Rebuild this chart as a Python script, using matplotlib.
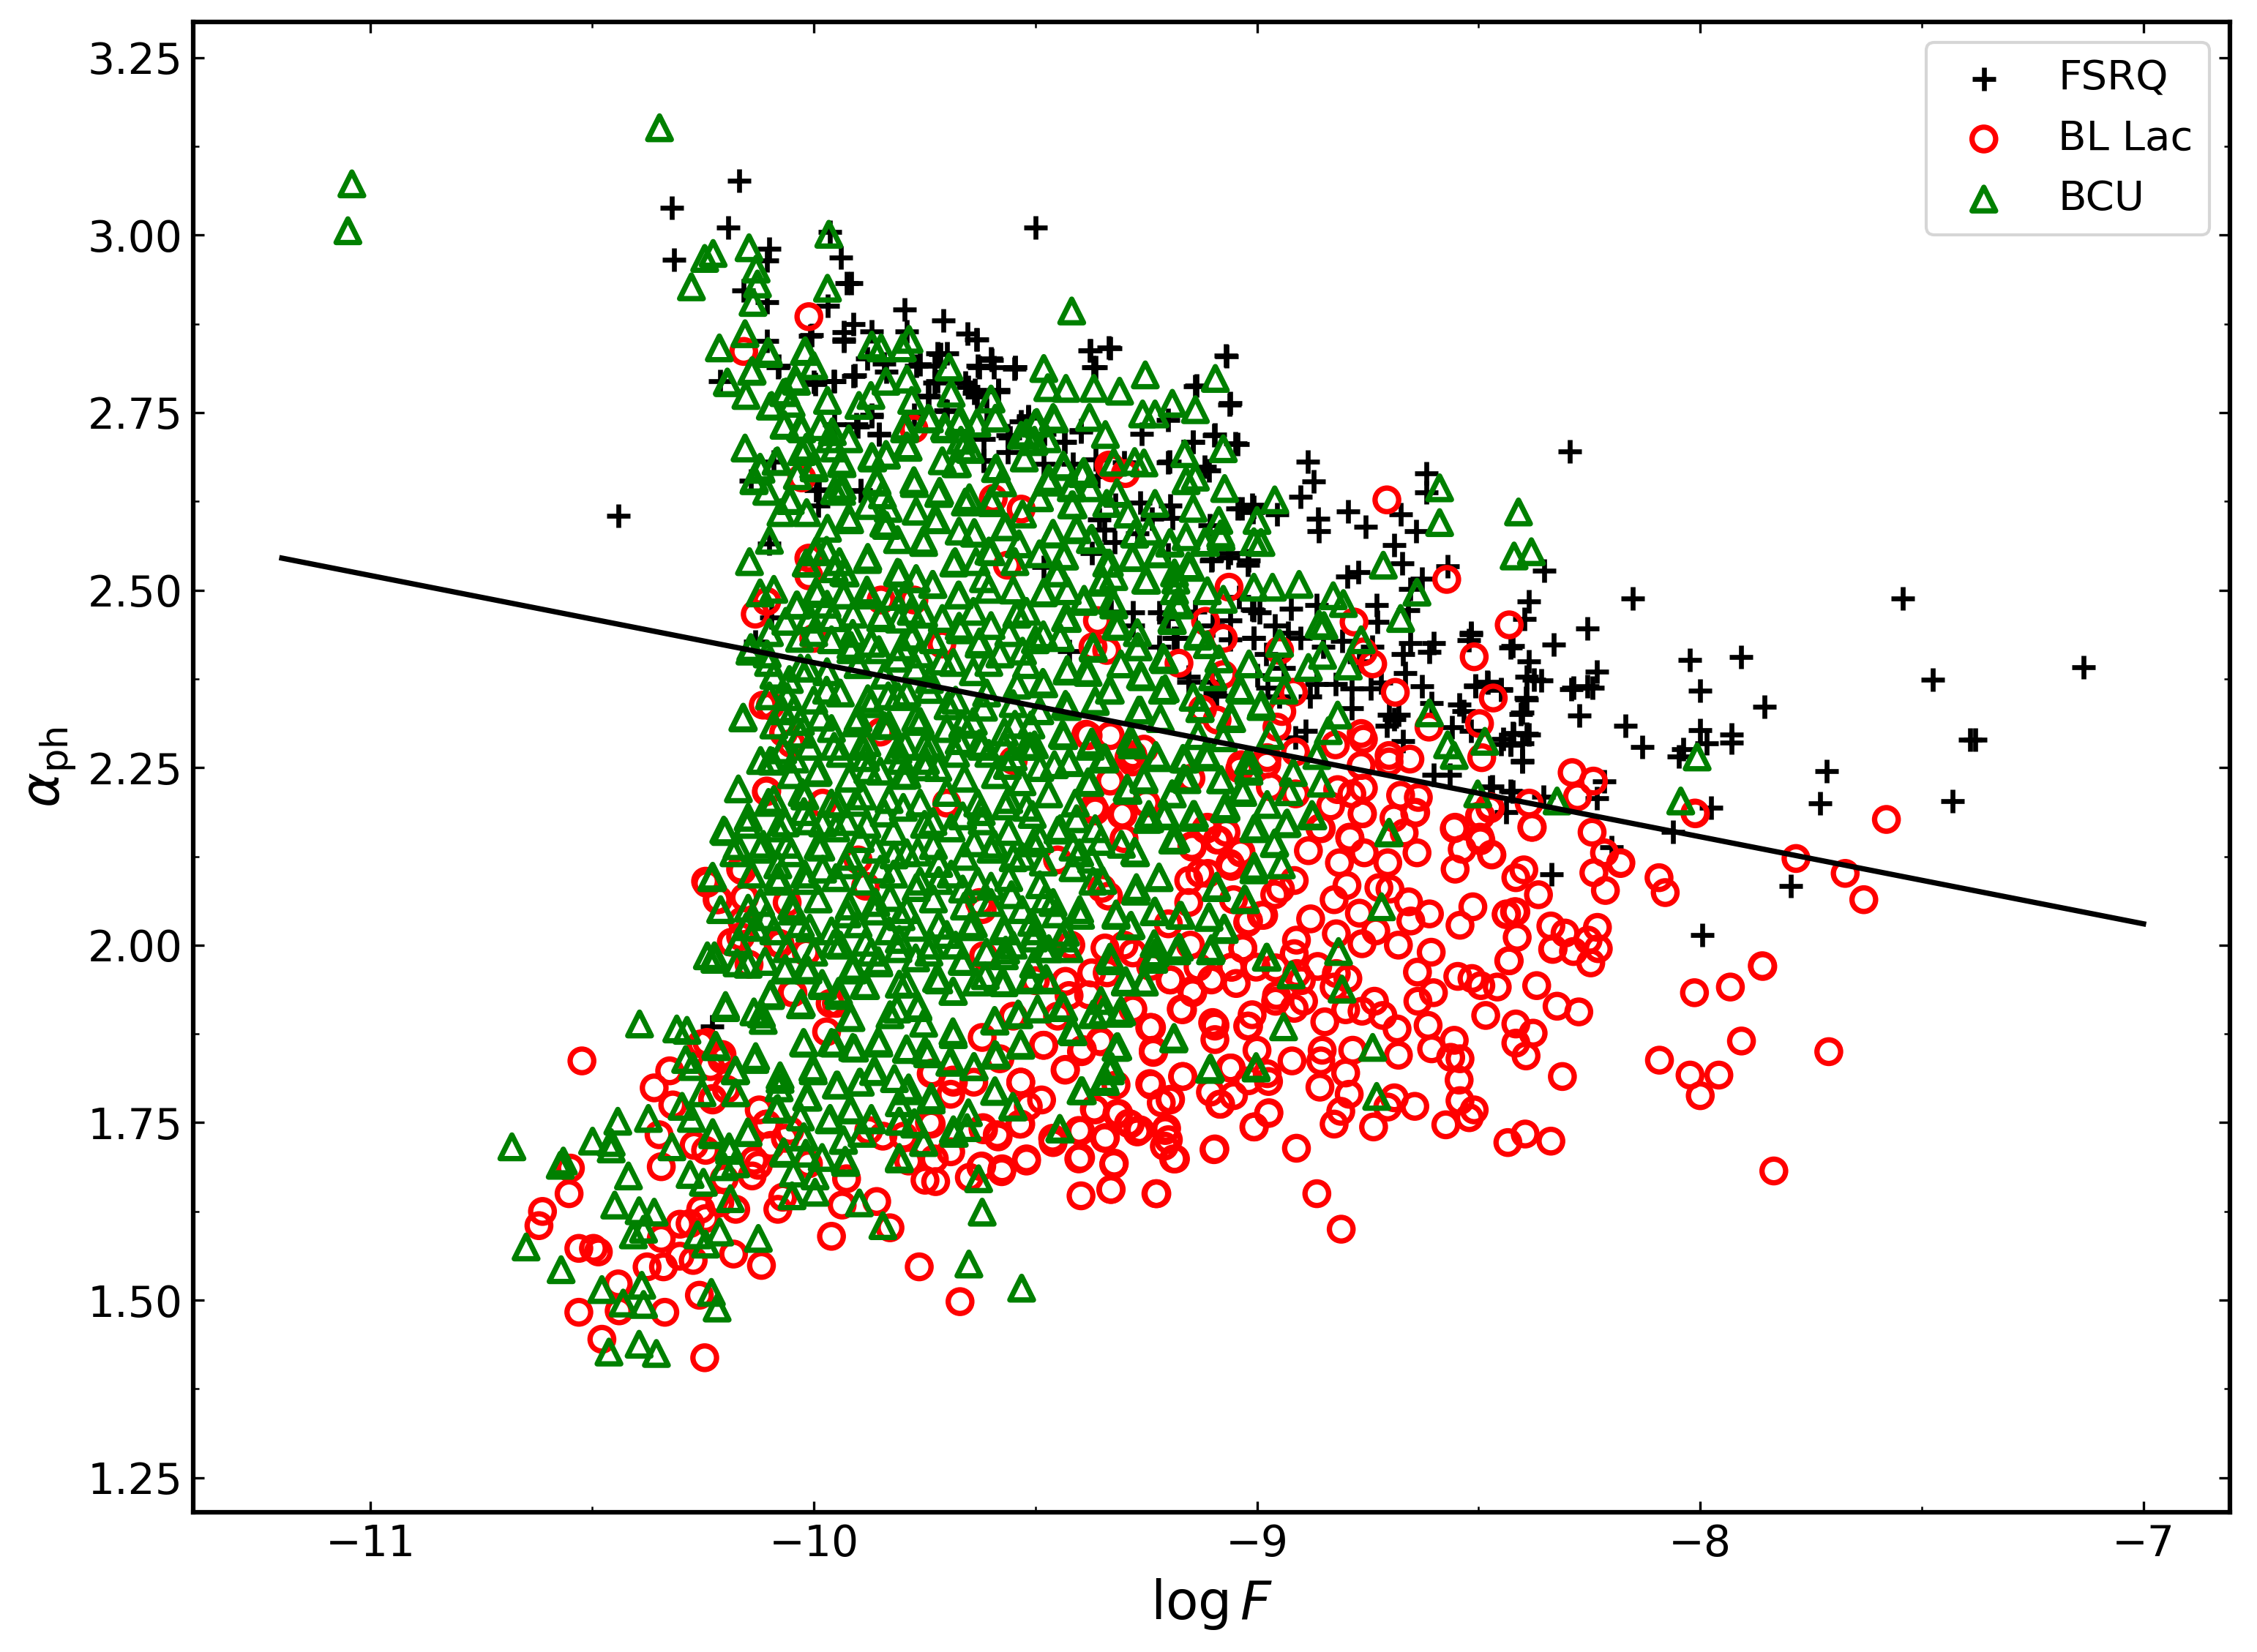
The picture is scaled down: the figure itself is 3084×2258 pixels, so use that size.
import matplotlib
matplotlib.use("Agg")
import matplotlib.pyplot as plt
from matplotlib.ticker import AutoMinorLocator, MultipleLocator

fsrq_right = [(-8.294,2.695),(-8.352,2.527),(-8.386,2.484),(-8.396,2.459),(-8.152,2.488),(-7.543,2.488),(-8.254,2.446),(-8.517,2.438),(-8.522,2.429),(-8.33,2.423),(-8.428,2.419),(-8.423,2.421),(-8.387,2.40),(-8.023,2.402),(-7.908,2.406),(-8.233,2.385),(-8.391,2.378),(-8.375,2.374),(-8.359,2.373),(-7.475,2.374),(-7.135,2.391),(-8.286,2.362),(-8.291,2.360),(-8.254,2.365),(-8.243,2.362),(-8.0,2.358),(-8.507,2.365),(-8.48,2.37),(-8.449,2.36),(-8.393,2.348),(-8.405,2.325),(-8.272,2.323),(-7.855,2.336),(-8.169,2.309),(-8.0,2.303),(-7.93,2.297),(-7.93,2.285),(-7.986,2.284),(-8.131,2.279),(-8.038,2.276),(-8.049,2.266),(-8.422,2.298),(-8.391,2.298),(-8.428,2.283),(-8.401,2.284),(-8.449,2.283),(-8.401,2.259),(-7.391,2.289),(-7.38,2.289),(-7.714,2.245),(-8.217,2.231),(-8.475,2.222),(-8.428,2.217),(-8.354,2.209),(-8.233,2.207),(-8.438,2.187),(-7.975,2.194),(-7.73,2.2),(-7.43,2.203),(-8.061,2.16),(-8.2,2.138),(-8.336,2.10),(-7.796,2.083),(-7.996,2.014)]
fsrq_mid = [(-9.376,2.837),(-9.334,2.842),(-9.365,2.814),(-9.069,2.829),(-9.139,2.787),(-9.062,2.761),(-9.097,2.718),(-9.144,2.709),(-9.044,2.706),(-9.397,2.723),(-9.434,2.709),(-8.886,2.681),(-8.872,2.653),(-8.902,2.631),(-8.618,2.664),(-8.618,2.638),(-8.794,2.611),(-8.863,2.6),(-8.86,2.583),(-8.755,2.589),(-8.676,2.607),(-8.641,2.583),(-8.691,2.563),(-8.672,2.538),(-8.772,2.525),(-8.797,2.519),(-8.57,2.534),(-8.628,2.516),(-8.655,2.502),(-9.197,2.681),(-9.118,2.674),(-9.034,2.615),(-9.007,2.617),(-8.955,2.607),(-9.191,2.602),(-9.065,2.546),(-9.02,2.536),(-9.102,2.543),(-8.73,2.479),(-8.66,2.472),(-8.923,2.474),(-8.865,2.479),(-9.007,2.472),(-8.995,2.469),(-8.728,2.455),(-9.007,2.433),(-8.902,2.433),(-8.807,2.428),(-9.181,2.433),(-8.518,2.44),(-8.602,2.425),(-8.655,2.425),(-8.612,2.413),(-8.67,2.41),(-8.665,2.383),(-8.481,2.371),(-8.507,2.366),(-8.449,2.359),(-8.628,2.365),(-8.391,2.346),(-8.744,2.361),(-8.786,2.361),(-8.865,2.368),(-8.823,2.368),(-8.786,2.334),(-8.607,2.341),(-8.544,2.339),(-8.533,2.329),(-8.402,2.327),(-8.702,2.324),(-8.681,2.324),(-8.707,2.309),(-8.69,2.318),(-8.423,2.299),(-8.386,2.297),(-8.444,2.29),(-8.428,2.282),(-8.402,2.258),(-8.891,2.302),(-8.913,2.292),(-8.56,2.307),(-8.518,2.302),(-8.67,2.287),(-8.602,2.24),(-8.565,2.24),(-8.47,2.223),(-8.423,2.216),(-9.102,2.371),(-9.155,2.371),(-9.091,2.351),(-8.96,2.45),(-8.93,2.44),(-8.98,2.41),(-9.06,2.43),(-9.1,2.45),(-9.14,2.47),(-9.2,2.46),(-9.04,2.49),(-8.94,2.39),(-9.0,2.38),(-8.85,2.42),(-8.77,2.40),(-8.74,2.42),(-8.72,2.37),(-8.88,2.35),(-8.95,2.35)]
fsrq_left = [(-10.44,2.605),(-9.50,3.01),(-10.169,3.076),(-10.321,3.038),(-10.193,3.01),(-10.316,2.965),(-10.1,2.981),(-10.106,2.964),(-10.158,2.922),(-10.106,2.905),(-9.963,3.004),(-9.939,2.968),(-9.916,2.932),(-9.925,2.932),(-9.969,2.9),(-9.795,2.895),(-9.708,2.88),(-9.911,2.874),(-9.869,2.864),(-9.932,2.863),(-9.932,2.851),(-10.008,2.858),(-10.106,2.851),(-9.79,2.864),(-9.653,2.861),(-9.632,2.853),(-9.721,2.833),(-9.70,2.833),(-9.598,2.824),(-9.627,2.814),(-9.548,2.812),(-9.879,2.826),(-9.842,2.819),(-9.769,2.816),(-9.911,2.801),(-9.956,2.794),(-10.0,2.793),(-10.079,2.816),(-10.211,2.794),(-9.721,2.794),(-9.658,2.792),(-9.637,2.782),(-9.584,2.782),(-9.742,2.774),(-9.632,2.772),(-9.7,2.752),(-9.774,2.747),(-9.869,2.747),(-9.9,2.73),(-9.853,2.72),(-9.563,2.718),(-9.616,2.713),(-9.532,2.737),(-9.616,2.683),(-10.09,2.681),(-9.995,2.641),(-9.99,2.619),(-9.895,2.641),(-10.142,2.654),(-10.1,2.565),(-10.095,2.461),(-10.132,2.427),(-9.594,2.814),(-9.545,2.814),(-9.61,2.753),(-9.516,2.743),(-9.237,2.60),(-9.107,2.591),(-9.01,2.61),(-9.36,2.66),(-9.3,2.68),(-9.48,2.72),(-9.26,2.72),(-9.2,2.74),(-9.32,2.62),(-9.27,2.58),(-9.2,2.55),(-9.33,2.47),(-9.28,2.45),(-9.22,2.42),(-10.23,1.885)]
fsrq_core = [(-10.005,2.859),(-9.933,2.853),(-9.714,2.832),(-9.727,2.816),(-9.634,2.853),(-9.6,2.826),(-9.63,2.816),(-9.546,2.814),(-9.377,2.837),(-9.331,2.841),(-9.369,2.814),(-9.07,2.83),(-9.137,2.788),(-9.061,2.763),(-10.08,2.814),(-9.954,2.794),(-9.908,2.802),(-9.996,2.79),(-9.836,2.808),(-9.76,2.818),(-9.727,2.792),(-9.651,2.786),(-9.638,2.778),(-9.584,2.78),(-9.74,2.772),(-9.702,2.753),(-9.87,2.745),(-9.904,2.733),(-9.954,2.733),(-9.853,2.719),(-9.516,2.745),(-9.558,2.715),(-9.436,2.709),(-9.398,2.725),(-9.617,2.682),(-9.562,2.694),(-9.482,2.678),(-9.415,2.678),(-9.365,2.684),(-9.145,2.709),(-9.095,2.719),(-9.049,2.707),(-9.2,2.68),(-9.108,2.668),(-9.011,2.62),(-9.044,2.615),(-9.196,2.619),(-9.263,2.623),(-9.356,2.599),(-9.344,2.585),(-9.988,2.642),(-9.895,2.64),(-9.061,2.552),(-9.019,2.542),(-9.103,2.542),(-9.373,2.552),(-9.322,2.567),(-9.482,2.532),(-9.28,2.469),(-9.221,2.469),(-9.011,2.473),(-9.007,2.433),(-9.061,2.457),(-9.188,2.433),(-9.424,2.414),(-8.977,2.362),(-9.095,2.355),(-9.154,2.378)]

bllac_zoom5 = [(-7.784,2.122),(-8.011,2.185),(-8.379,2.166),(-8.474,2.192),(-8.495,2.182),(-8.553,2.166),(-8.244,2.159),(-8.216,2.13),(-8.179,2.116),(-8.24,2.102),(-8.214,2.077),(-8.093,2.095),(-8.079,2.074),(-8.398,2.106),(-8.416,2.095),(-8.365,2.071),(-8.471,2.128),(-8.537,2.135),(-8.495,2.148),(-8.553,2.107),(-8.639,2.13),(-8.642,2.187),(-8.668,2.158),(-8.763,2.185),(-8.79,2.15),(-8.705,2.116),(-8.758,2.13),(-8.814,2.116),(-8.858,2.165),(-8.884,2.133),(-8.7,2.079),(-8.725,2.081),(-8.797,2.084),(-8.826,2.064),(-8.658,2.061),(-8.611,2.044),(-8.653,2.034),(-8.769,2.045),(-8.879,2.037),(-8.732,2.02),(-8.513,2.054),(-8.542,2.028),(-8.437,2.044),(-8.416,2.047),(-8.413,2.011),(-8.432,1.978),(-8.337,2.027),(-8.305,2.017),(-8.232,2.025),(-8.253,2.007),(-8.23,1.995),(-8.332,1.995),(-8.286,1.991),(-8.247,1.975),(-8.821,2.016),(-8.911,2.007),(-8.916,1.988),(-9.032,1.995),(-8.763,2.002),(-8.681,2.0),(-8.607,1.99),(-8.638,1.962),(-8.547,1.956),(-8.515,1.953),(-8.495,1.943),(-8.458,1.941),(-8.602,1.933),(-8.637,1.921),(-8.484,1.901),(-8.369,1.943),(-8.323,1.914),(-8.274,1.906),(-8.416,1.889),(-8.377,1.876),(-8.416,1.862),(-8.393,1.844),(-8.614,1.887),(-8.606,1.854),(-8.555,1.866),(-8.542,1.84),(-8.563,1.842),(-8.544,1.81),(-8.542,1.781),(-8.51,1.768),(-8.521,1.757),(-8.574,1.747),(-8.311,1.815),(-8.434,1.722),(-8.395,1.734),(-8.337,1.724),(-8.092,1.838),(-8.023,1.817),(-7.958,1.817),(-8.0,1.788),(-7.907,1.865),(-7.71,1.85),(-8.013,1.933),(-7.932,1.941),(-7.86,1.971),(-7.834,1.682),(-8.81,1.6),(-8.865,1.65),(-8.911,1.714),(-9.007,1.744),(-9.097,1.712),(-9.184,1.699),(-9.226,1.65),(-9.329,1.656),(-9.323,1.692),(-8.826,1.748),(-8.737,1.744),(-8.644,1.773),(-8.69,1.785),(-8.705,1.772),(-8.811,1.766),(-8.792,1.79),(-8.858,1.8),(-8.8,1.82),(-8.856,1.837),(-8.853,1.852),(-8.784,1.852),(-8.681,1.845),(-8.684,1.882),(-8.716,1.901),(-8.735,1.921),(-8.8,1.909),(-8.847,1.892),(-8.763,1.907),(-8.916,1.911),(-8.958,1.921),(-8.895,1.921),(-8.821,1.96),(-8.795,1.953),(-8.863,1.97),(-8.826,1.941),(-8.921,1.837),(-8.974,1.763),(-8.974,1.808),(-9.0,1.852),(-9.058,1.827),(-9.053,1.788),(-9.084,1.776),(-9.105,1.793),(-9.168,1.815),(-9.195,1.783),(-9.242,1.805),(-9.216,1.778),(-9.316,1.763),(-9.205,1.741),(-9.2,1.726),(-9.269,1.739),(-9.29,1.749),(-9.342,1.729),(-9.234,1.852),(-9.095,1.867),(-9.021,1.886),(-9.242,1.884),(-9.168,1.909),(-9.1,1.891),(-9.095,1.886),(-9.047,1.946),(-9.102,1.952),(-9.058,1.969),(-9.147,1.936),(-9.195,1.951),(-9.021,2.032),(-8.99,2.042),(-8.916,2.091),(-8.947,2.079),(-9.037,2.13),(-9.09,2.148),(-9.116,2.163),(-9.058,2.111),(-9.111,2.101),(-9.147,2.14),(-8.958,1.968),(-8.91,1.96),(-8.9,1.95)]
bllac_upper = [(-8.431,2.451),(-8.51,2.406),(-8.467,2.348),(-8.498,2.312),(-8.493,2.264),(-8.289,2.243),(-8.241,2.231),(-8.277,2.209),(-8.386,2.2),(-8.475,2.195),(-8.498,2.182),(-8.38,2.166),(-8.496,2.147),(-8.47,2.127),(-8.18,2.115),(-8.438,2.043),(-8.419,2.047),(-8.431,1.978),(-8.333,1.994),(-7.859,1.97),(-8.012,2.186),(-7.58,2.177),(-7.673,2.101),(-7.631,2.064),(-8.707,2.627),(-8.572,2.515),(-9.063,2.504),(-9.328,2.672),(-9.297,2.664),(-8.781,2.455),(-9.116,2.456),(-9.076,2.432),(-8.739,2.396),(-8.76,2.413),(-8.949,2.415),(-9.37,2.42),(-9.339,2.415),(-9.36,2.457),(-9.176,2.397),(-8.688,2.356),(-8.918,2.356),(-9.076,2.381),(-8.944,2.329),(-9.123,2.332),(-8.955,2.307),(-9.09,2.317),(-8.765,2.298),(-8.76,2.29),(-8.612,2.307),(-8.823,2.282),(-8.913,2.272),(-8.978,2.255),(-8.702,2.267),(-8.655,2.262),(-8.765,2.253),(-8.702,2.258),(-8.76,2.221),(-8.818,2.219),(-8.786,2.213),(-8.676,2.211),(-8.636,2.208),(-8.834,2.196),(-8.762,2.185),(-8.644,2.186),(-8.691,2.179),(-8.791,2.152),(-8.855,2.164),(-9.039,2.248),(-8.913,2.213),(-8.97,2.223),(-9.386,2.297),(-9.302,2.184),(-9.365,2.189),(-9.112,2.164),(-9.07,2.159),(-9.149,2.235),(-9.281,2.258),(-8.555,2.164),(-8.497,2.152),(-10.011,2.545),(-10.132,2.466),(-10.106,2.484),(-10.011,2.52),(-9.848,2.486),(-9.774,2.486),(-10.0,2.432),(-9.711,2.424),(-9.595,2.629),(-9.532,2.614),(-9.774,2.727),(-10.027,2.658),(-9.563,2.535),(-10.011,2.885),(-10.158,2.836),(-10.114,2.338),(-10.107,2.216),(-10.162,2.105),(-10.244,2.09),(-10.218,2.064),(-10.162,2.034),(-10.146,1.973),(-10.081,2.003),(-9.334,2.676),(-9.85,2.3),(-9.7,2.2),(-9.55,2.26),(-9.98,2.2),(-9.9,2.12),(-9.62,2.05),(-9.45,2.12),(-9.35,2.08),(-9.3,2.15),(-9.25,2.2),(-10.098,2.337),(-10.068,2.299),(-10.051,2.284),(-9.381,2.295),(-9.331,2.295),(-9.255,2.276),(-9.289,2.264),(-9.036,2.254),(-8.977,2.264)]
bllac_lower = [(-10.523,1.837),(-10.36,1.799),(-10.325,1.823),(-10.254,1.861),(-10.207,1.846),(-10.233,1.829),(-10.197,1.797),(-10.318,1.775),(-10.228,1.782),(-10.349,1.733),(-10.27,1.718),(-10.344,1.688),(-10.244,1.711),(-10.549,1.686),(-10.552,1.65),(-10.612,1.625),(-10.62,1.605),(-10.53,1.573),(-10.497,1.573),(-10.486,1.568),(-10.344,1.587),(-10.302,1.607),(-10.279,1.608),(-10.244,1.615),(-10.255,1.628),(-10.212,1.637),(-10.176,1.628),(-10.202,1.671),(-10.139,1.675),(-10.125,1.69),(-10.376,1.547),(-10.339,1.547),(-10.302,1.562),(-10.272,1.556),(-10.181,1.565),(-10.118,1.549),(-10.441,1.523),(-10.258,1.507),(-10.53,1.483),(-10.439,1.485),(-10.336,1.483),(-10.478,1.445),(-10.246,1.419),(-10.081,1.628),(-10.07,1.645),(-9.96,1.59),(-9.936,1.634),(-9.858,1.639),(-9.828,1.602),(-9.926,1.671),(-9.762,1.547),(-9.67,1.498),(-9.749,1.669),(-9.725,1.667),(-9.649,1.673),(-9.623,1.688),(-9.576,1.681),(-9.52,1.696),(-9.397,1.647),(-9.33,1.656),(-9.228,1.65),(-9.402,1.699),(-9.323,1.691),(-9.46,1.722),(-9.344,1.728),(-9.27,1.737),(-9.207,1.739),(-9.402,1.739),(-9.586,1.733),(-9.618,1.741),(-9.535,1.748),(-9.691,1.709),(-9.739,1.75),(-9.786,1.696),(-9.728,1.699),(-9.516,1.773),(-9.486,1.782),(-9.367,1.769),(-9.312,1.763),(-9.286,1.748),(-9.239,1.803),(-9.433,1.824),(-9.533,1.807),(-9.481,1.859),(-9.396,1.85),(-9.354,1.865),(-9.233,1.85),(-9.239,1.884),(-9.338,1.961),(-9.686,1.81),(-9.733,1.82),(-9.639,1.807),(-9.691,1.79),(-9.618,1.743),(-10.049,1.933),(-9.949,1.918),(-10.107,1.748),(-10.054,1.739),(-9.876,1.739),(-9.844,1.731),(-9.797,1.731),(-10.097,1.718),(-10.012,1.692),(-9.45,1.9),(-9.38,1.93),(-9.28,1.91),(-9.5,1.95),(-9.42,2.0),(-9.3,2.0),(-9.24,1.97),(-9.2,2.03),(-9.15,2.0),(-9.58,1.84),(-9.62,1.87),(-9.55,1.9)]
bllac_dense = [(-9.306,2.184),(-9.369,2.194),(-9.28,2.268),(-9.331,2.231),(-9.146,2.138),(-9.112,2.166),(-9.086,2.148),(-9.036,2.131),(-9.061,2.115),(-9.129,2.101),(-9.154,2.091),(-9.019,2.034),(-8.985,2.042),(-8.96,2.071),(-9.032,1.996),(-9.057,1.969),(-9.103,1.951),(-9.145,1.933),(-9.133,1.969),(-9.196,1.951),(-9.171,1.91),(-9.238,1.884),(-9.234,1.849),(-9.167,1.815),(-9.238,1.803),(-9.196,1.782),(-9.204,1.742),(-9.188,1.699),(-9.095,1.713),(-9.006,1.744),(-8.973,1.764),(-9.082,1.776),(-9.019,1.809),(-8.977,1.819),(-9.061,1.827),(-9.095,1.888),(-9.019,1.886),(-9.011,1.902),(-8.956,1.929),(-9.002,1.969),(-9.053,2.064),(-9.154,2.06),(-9.335,2.069),(-9.343,1.996),(-9.373,1.961),(-9.28,1.989),(-9.432,1.949),(-9.424,1.929),(-9.352,1.864),(-9.394,1.853),(-9.482,1.859),(-9.533,1.807),(-9.432,1.825),(-9.318,1.803),(-9.365,1.768),(-9.314,1.762),(-9.398,1.738),(-9.343,1.728),(-9.398,1.701),(-9.322,1.693),(-9.52,1.699),(-9.575,1.685),(-9.621,1.689),(-9.461,1.728),(-9.533,1.748),(-9.584,1.73),(-9.617,1.74),(-9.735,1.748),(-9.685,1.807),(-9.735,1.819),(-9.264,1.74),(-9.209,1.717),(-9.883,2.083),(-10.165,2.107),(-10.215,2.064),(-10.156,2.067),(-10.241,2.087),(-10.106,2.217),(-10.06,2.06),(-10.076,2.002),(-10.165,2.012),(-10.186,2.004),(-10.017,1.99),(-10.047,1.933),(-10.241,1.863),(-10.207,1.839),(-10.228,1.784),(-10.123,1.768),(-10.106,1.748),(-10.135,1.697),(-10.064,1.728),(-9.963,1.918),(-9.971,1.878),(-9.626,2.06),(-9.617,1.985)]

bcu_top = [(-10.348,3.151),(-11.042,3.072),(-11.051,3.006),(-10.227,2.974),(-10.246,2.967),(-10.276,2.927),(-10.146,2.982),(-10.13,2.952),(-10.127,2.931),(-10.137,2.905),(-9.966,3.001),(-9.969,2.925),(-10.155,2.861),(-10.213,2.841),(-10.103,2.836),(-10.021,2.836),(-10.0,2.816),(-10.139,2.809),(-10.195,2.793),(-10.153,2.774),(-10.042,2.797),(-9.869,2.845),(-9.848,2.841),(-9.8,2.841),(-9.785,2.853),(-9.695,2.814),(-9.837,2.794),(-9.79,2.797),(-9.69,2.777),(-9.6,2.769),(-9.871,2.774),(-9.898,2.76),(-9.969,2.767),(-9.779,2.767),(-10.063,2.779),(-10.095,2.76),(-10.067,2.732),(-10.027,2.727),(-9.985,2.73),(-9.921,2.713),(-9.795,2.727),(-9.742,2.742),(-9.705,2.73),(-9.669,2.74),(-9.632,2.735),(-9.59,2.742),(-9.532,2.718),(-10.155,2.7),(-10.085,2.681),(-10.134,2.656),(-10.121,2.673),(-10.106,2.639),(-10.053,2.626),(-10.074,2.609),(-10.016,2.609),(-10.037,2.661),(-10.0,2.676),(-9.937,2.681),(-10.027,2.695),(-9.953,2.7),(-9.869,2.688),(-9.837,2.691),(-9.79,2.703),(-9.663,2.7),(-9.679,2.678),(-9.59,2.671),(-9.937,2.639),(-9.858,2.654),(-9.774,2.654),(-9.716,2.639),(-9.6,2.626),(-9.574,2.651),(-10.1,2.57),(-10.145,2.54),(-10.016,2.538),(-9.969,2.587),(-9.921,2.602),(-9.842,2.594),(-9.727,2.6),(-9.658,2.624),(-9.569,2.589),(-9.995,2.555),(-9.879,2.543),(-9.753,2.57),(-9.637,2.58),(-9.537,2.565),(-9.932,2.525),(-9.811,2.525),(-9.684,2.538),(-9.605,2.555),(-9.769,2.516),(-10.121,2.496),(-10.09,2.501),(-9.995,2.498),(-9.932,2.493),(-10.037,2.479),(-9.821,2.491),(-9.732,2.508),(-9.674,2.493),(-9.605,2.501),(-10.063,2.456),(-10.011,2.459),(-9.911,2.466),(-9.848,2.464),(-9.753,2.466),(-9.542,2.466),(-10.032,2.432),(-9.916,2.422),(-9.779,2.434),(-9.669,2.444),(-9.627,2.424),(-10.142,2.419),(-10.105,2.41)]
bcu_right = [(-9.418,2.893),(-9.481,2.812),(-9.252,2.803),(-9.094,2.798),(-9.472,2.785),(-9.431,2.784),(-9.368,2.784),(-9.31,2.78),(-9.258,2.748),(-9.23,2.748),(-9.191,2.763),(-9.139,2.754),(-9.378,2.743),(-9.46,2.743),(-9.497,2.736),(-9.342,2.719),(-9.502,2.711),(-9.163,2.692),(-9.076,2.699),(-9.323,2.68),(-9.276,2.681),(-9.255,2.679),(-9.437,2.676),(-9.391,2.667),(-9.16,2.654),(-9.139,2.659),(-9.47,2.657),(-9.418,2.647),(-9.073,2.643),(-8.96,2.627),(-9.316,2.637),(-9.339,2.622),(-9.491,2.63),(-9.418,2.62),(-9.23,2.622),(-9.291,2.607),(-9.144,2.615),(-9.086,2.598),(-9.0,2.598),(-9.007,2.568),(-8.991,2.567),(-9.081,2.575),(-9.118,2.568),(-9.16,2.575),(-9.46,2.58),(-9.407,2.585),(-9.376,2.571),(-9.276,2.579),(-9.244,2.583),(-9.197,2.566),(-9.434,2.548),(-9.491,2.551),(-9.281,2.546),(-9.223,2.551),(-9.333,2.538),(-9.155,2.534),(-9.249,2.514),(-9.186,2.524),(-9.449,2.524),(-9.349,2.511),(-9.323,2.519),(-9.007,2.504),(-8.965,2.504),(-8.905,2.508),(-8.715,2.535),(-8.588,2.644),(-8.588,2.595),(-8.41,2.61),(-8.42,2.548),(-8.381,2.554),(-8.639,2.497),(-8.828,2.492),(-8.805,2.481),(-8.676,2.46),(-8.86,2.452),(-8.849,2.45),(-9.112,2.499),(-9.076,2.487),(-9.186,2.499),(-9.181,2.482),(-9.191,2.457),(-9.481,2.497),(-9.428,2.499),(-9.391,2.484),(-9.323,2.479),(-9.428,2.46),(-9.318,2.45),(-9.133,2.435),(-9.27,2.44),(-9.444,2.433),(-8.949,2.425),(-8.765,2.43),(-8.852,2.408),(-8.884,2.391),(-8.794,2.393),(-9.112,2.423),(-9.086,2.403),(-9.1,2.378),(-9.018,2.396),(-8.955,2.391),(-9.212,2.405),(-9.27,2.42),(-9.37,2.42),(-9.307,2.396),(-9.428,2.388),(-9.386,2.386),(-9.481,2.368),(-9.26,2.378),(-9.207,2.361),(-9.333,2.359),(-9.144,2.349),(-9.128,2.334),(-9.039,2.361),(-8.939,2.359),(-8.991,2.336),(-9.06,2.322),(-9.267,2.331),(-9.365,2.344),(-9.428,2.336),(-9.218,2.319),(-8.97,2.295),(-8.818,2.324),(-8.839,2.302),(-8.611,2.327),(-8.57,2.282),(-8.555,2.267),(-8.486,2.287),(-8.007,2.265),(-8.044,2.203),(-8.502,2.213),(-8.323,2.203),(-8.702,2.159),(-8.865,2.267),(-8.918,2.243),(-8.855,2.228),(-8.928,2.216),(-8.876,2.184),(-8.934,2.171),(-9.007,2.164),(-9.018,2.245),(-9.034,2.218),(-9.081,2.233),(-9.07,2.196),(-9.144,2.184),(-9.076,2.292),(-9.112,2.265),(-9.165,2.262),(-9.228,2.267),(-9.165,2.235),(-9.255,2.233),(-9.191,2.213),(-9.291,2.218),(-9.281,2.282),(-9.376,2.28),(-9.439,2.297),(-9.344,2.262),(-9.423,2.258),(-9.502,2.282),(-9.47,2.213),(-9.381,2.23),(-9.244,2.184),(-9.365,2.164),(-9.444,2.164),(-9.507,2.184),(-9.207,2.184),(-8.703,2.158),(-8.719,2.054),(-8.816,1.991),(-8.808,1.938),(-8.739,1.856),(-8.73,1.787),(-8.94,1.885),(-8.923,1.958),(-8.979,1.983),(-9.002,1.827),(-9.107,1.825),(-9.187,1.87),(-9.105,1.992),(-9.074,2.022),(-9.026,2.064),(-9.092,2.081),(-9.007,2.106),(-8.945,2.113),(-8.961,2.143),(-8.932,2.172),(-8.874,2.182),(-9.005,2.165),(-9.074,2.192),(-9.142,2.18),(-9.247,2.177),(-9.19,2.148),(-9.274,2.13),(-9.221,2.096),(-9.274,2.076),(-9.232,2.047),(-9.174,2.042),(-9.109,2.039),(-9.286,2.027),(-9.318,2.042),(-9.232,2.002),(-9.181,1.992),(-9.234,1.983),(-9.332,1.983),(-9.297,1.948),(-9.255,1.948),(-9.311,1.904),(-9.347,1.906),(-9.316,1.857),(-9.332,1.827),(-9.342,1.808)]
bcu_low = [(-10.681,1.716),(-10.565,1.696),(-10.572,1.69),(-10.499,1.724),(-10.457,1.722),(-10.457,1.713),(-10.442,1.752),(-10.373,1.756),(-10.393,1.889),(-10.309,1.882),(-10.286,1.88),(-10.199,1.915),(-10.418,1.675),(-10.449,1.634),(-10.394,1.626),(-10.36,1.624),(-10.384,1.6),(-10.407,1.592),(-10.262,1.592),(-10.212,1.596),(-10.244,1.579),(-10.125,1.587),(-10.649,1.575),(-10.57,1.543),(-10.478,1.515),(-10.388,1.521),(-10.43,1.496),(-10.384,1.494),(-10.231,1.511),(-10.218,1.489),(-10.394,1.438),(-10.462,1.427),(-10.355,1.425),(-9.62,1.624),(-9.65,1.551),(-9.531,1.517),(-9.844,1.605),(-9.897,1.637),(-9.807,1.701),(-9.628,1.671),(-10.049,1.647),(-9.997,1.652),(-10.188,1.643),(-10.249,1.666),(-10.279,1.677),(-10.202,1.688),(-10.176,1.692),(-10.32,1.716),(-10.228,1.733),(-10.191,1.716),(-10.149,1.737),(-10.297,1.773),(-10.276,1.756),(-10.221,1.859),(-10.289,1.839),(-10.273,1.829),(-10.252,1.792),(-10.176,1.824),(-10.176,1.792),(-10.133,1.839),(-10.076,1.816),(-10.078,1.799),(-10.084,1.769),(-10.03,1.758),(-10.016,1.786),(-9.965,1.754),(-9.933,1.726),(-9.928,1.694),(-10.023,1.73),(-10.067,1.707),(-10.046,1.679),(-9.997,1.675),(-10.018,1.707),(-9.981,1.701),(-9.918,1.769),(-9.87,1.756),(-9.891,1.735),(-9.807,1.752),(-9.772,1.748),(-9.752,1.722),(-9.683,1.735),(-9.654,1.743),(-9.551,1.773),(-9.444,1.741),(-9.591,1.795),(-9.735,1.786),(-9.807,1.778),(-9.786,1.799),(-9.897,1.807),(-9.949,1.803),(-10.002,1.827),(-9.865,1.822),(-9.818,1.812),(-9.691,1.837),(-9.639,1.829),(-9.591,1.846),(-9.533,1.861),(-9.418,1.88),(-9.318,1.856),(-9.328,1.829),(-9.344,1.812),(-9.397,1.795),(-9.686,1.878),(-9.749,1.852),(-9.791,1.854),(-9.912,1.856),(-9.96,1.863),(-10.023,1.863),(-10.097,1.931),(-10.028,1.918),(-10.118,1.903),(-9.918,1.899),(-9.854,1.865),(-9.812,1.91),(-9.765,1.914),(-9.723,1.953),(-9.686,1.935),(-9.591,1.893),(-9.539,1.903),(-9.439,1.914),(-9.37,1.903),(-9.307,1.908),(-9.296,1.95),(-9.254,1.948),(-9.328,1.978),(-9.233,1.98),(-9.476,1.953),(-9.512,1.953),(-9.576,1.948),(-9.633,1.948),(-9.886,1.944),(-9.981,1.946),(-10.065,1.965),(-10.018,1.968),(-10.223,1.98),(-10.149,1.974),(-9.944,1.935),(-9.57,1.985),(-9.665,1.978),(-9.77,1.982),(-9.854,1.978),(-9.912,1.97),(-9.791,1.946)]
bcu_core = [(-10.09,2.38),(-10.03,2.39),(-9.97,2.385),(-9.9,2.395),(-9.84,2.38),(-9.77,2.39),(-9.71,2.4),(-9.64,2.385),(-9.58,2.41),(-9.52,2.395),(-10.06,2.35),(-10.0,2.345),(-9.94,2.355),(-9.87,2.34),(-9.81,2.35),(-9.74,2.36),(-9.68,2.345),(-9.61,2.355),(-9.55,2.34),(-9.49,2.33),(-10.16,2.32),(-10.09,2.31),(-10.03,2.315),(-9.96,2.305),(-9.9,2.32),(-9.83,2.31),(-9.77,2.32),(-9.7,2.305),(-9.64,2.315),(-9.57,2.3),(-9.51,2.31),(-10.07,2.275),(-10.01,2.28),(-9.94,2.27),(-9.88,2.285),(-9.81,2.275),(-9.75,2.28),(-9.68,2.27),(-9.62,2.28),(-9.55,2.265),(-9.49,2.25),(-10.12,2.26),(-10.05,2.24),(-9.99,2.245),(-9.92,2.235),(-9.85,2.245),(-9.79,2.24),(-9.72,2.25),(-9.66,2.235),(-9.59,2.24),(-9.53,2.23),(-10.09,2.205),(-10.02,2.21),(-9.96,2.2),(-9.89,2.21),(-9.83,2.205),(-9.76,2.2),(-9.7,2.215),(-9.63,2.2),(-9.56,2.205),(-9.41,2.2),(-10.15,2.17),(-10.08,2.165),(-10.01,2.175),(-9.95,2.165),(-9.88,2.17),(-9.82,2.16),(-9.75,2.17),(-9.69,2.165),(-9.62,2.175),(-9.56,2.16),(-9.49,2.15),(-10.2,2.16),(-10.18,2.13),(-10.12,2.135),(-10.05,2.13),(-9.99,2.14),(-9.92,2.125),(-9.86,2.135),(-9.79,2.13),(-9.73,2.14),(-9.66,2.125),(-9.6,2.135),(-9.53,2.125),(-9.4,2.13),(-10.23,2.095),(-10.14,2.1),(-10.08,2.09),(-10.02,2.1),(-9.95,2.095),(-9.89,2.09),(-9.82,2.1),(-9.76,2.09),(-9.69,2.1),(-9.63,2.09),(-9.56,2.095),(-9.49,2.085),(-9.37,2.09),(-10.12,2.06),(-10.05,2.055),(-9.99,2.065),(-9.92,2.055),(-9.86,2.06),(-9.79,2.05),(-9.73,2.065),(-9.66,2.055),(-9.6,2.06),(-9.53,2.05),(-9.46,2.06),(-9.4,2.05),(-10.21,2.05),(-10.13,2.025),(-10.09,2.02),(-10.03,2.03),(-9.96,2.02),(-9.9,2.03),(-9.83,2.02),(-9.77,2.025),(-9.7,2.015),(-9.64,2.03),(-9.57,2.02),(-9.5,2.02),(-9.44,2.01),(-10.24,1.985),(-10.17,2.005),(-10.06,1.995),(-10.0,1.99),(-9.94,2.0),(-9.87,1.99),(-9.81,1.995),(-9.74,1.99),(-9.68,2.0),(-9.61,1.99),(-9.55,2.0),(-9.48,1.995),(-10.1,2.44),(-10.0,2.44),(-9.96,2.43),(-9.87,2.425),(-9.8,2.42),(-9.73,2.43),(-9.6,2.45),(-9.56,2.44),(-9.5,2.43),(-9.97,2.48),(-9.88,2.5),(-9.78,2.47),(-9.71,2.46),(-9.64,2.47),(-9.55,2.5),(-9.52,2.47),(-10.17,2.22),(-10.07,2.33)]
bcu_upper_core = [(-10.102,2.833),(-10.019,2.837),(-10.14,2.808),(-10.194,2.792),(-10.039,2.794),(-10.068,2.778),(-10.098,2.759),(-10.051,2.763),(-10.066,2.733),(-10.03,2.729),(-9.958,2.723),(-10.082,2.682),(-10.135,2.654),(-10.119,2.67),(-10.055,2.627),(-9.999,2.672),(-9.936,2.678),(-10.017,2.701),(-9.963,2.713),(-9.936,2.646),(-9.953,2.64),(-9.919,2.599),(-9.867,2.686),(-9.836,2.69),(-9.857,2.652),(-9.794,2.731),(-9.787,2.701),(-9.739,2.741),(-9.703,2.727),(-9.672,2.737),(-9.668,2.711),(-9.647,2.698),(-9.71,2.682),(-9.676,2.678),(-9.588,2.672),(-9.575,2.652),(-9.5,2.735),(-9.457,2.741),(-9.504,2.709),(-9.474,2.713),(-9.525,2.686),(-9.52,2.721),(-9.47,2.652),(-9.419,2.644),(-9.436,2.674),(-9.394,2.664),(-9.377,2.644),(-9.491,2.63),(-9.415,2.62),(-9.529,2.607),(-9.598,2.623),(-9.649,2.63),(-9.718,2.636),(-9.773,2.65),(-9.845,2.634),(-9.878,2.619),(-9.832,2.615),(-9.769,2.611),(-9.723,2.599),(-9.672,2.583),(-9.638,2.581),(-9.836,2.591),(-9.567,2.589),(-9.461,2.579),(-9.407,2.587),(-9.373,2.573),(-9.752,2.567),(-9.811,2.571),(-9.878,2.546),(-9.942,2.54),(-9.971,2.556),(-9.996,2.554),(-10.017,2.538),(-9.929,2.524),(-9.954,2.53),(-9.681,2.54),(-9.634,2.54),(-9.6,2.554),(-9.546,2.54),(-9.436,2.548),(-9.453,2.524),(-9.339,2.538),(-9.348,2.514),(-9.28,2.546),(-9.223,2.552),(-9.251,2.514),(-9.183,2.514),(-9.15,2.532),(-9.196,2.567),(-9.116,2.567),(-9.082,2.579),(-9.276,2.579),(-9.327,2.485),(-9.39,2.487),(-9.482,2.496),(-9.541,2.467),(-9.617,2.516),(-9.672,2.493),(-9.731,2.508),(-9.769,2.516),(-9.807,2.524),(-9.878,2.493),(-9.794,2.493),(-9.849,2.461),(-9.807,2.459),(-9.752,2.467),(-9.672,2.449),(-9.626,2.427),(-9.529,2.414),(-9.482,2.437),(-9.432,2.461),(-9.314,2.449),(-9.268,2.42),(-9.369,2.418),(-9.192,2.459),(-9.175,2.479),(-9.133,2.437),(-10.009,2.461),(-10.039,2.479),(-9.992,2.495),(-9.933,2.493),(-9.958,2.461),(-9.912,2.439),(-9.777,2.435),(-9.853,2.416),(-9.916,2.416),(-9.811,2.404),(-9.76,2.41),(-9.685,2.398),(-9.605,2.398),(-9.483,2.37),(-9.541,2.366),(-9.381,2.384),(-9.428,2.386),(-9.331,2.359),(-9.263,2.38),(-9.209,2.402),(-9.213,2.359),(-9.129,2.333),(-9.036,2.359),(-9.057,2.319),(-8.99,2.339),(-9.099,2.378),(-9.263,2.331),(-9.365,2.343),(-9.432,2.339),(-9.617,2.335),(-9.697,2.337),(-9.739,2.374),(-9.79,2.355),(-9.832,2.351),(-9.878,2.347),(-9.971,2.359),(-10.013,2.39),(-10.055,2.374),(-10.044,2.333),(-9.984,2.321),(-9.904,2.313),(-9.841,2.309),(-9.76,2.315),(-9.664,2.311),(-9.546,2.311),(-9.436,2.295),(-9.373,2.286),(-9.285,2.288),(-9.133,2.295),(-10.1,2.351),(-10.159,2.321),(-10.144,2.414),(-10.102,2.398),(-10.03,2.297),(-9.954,2.28),(-9.883,2.264),(-9.794,2.282),(-9.735,2.28),(-9.626,2.284),(-9.571,2.28),(-9.512,2.28),(-9.343,2.264),(-9.225,2.264),(-9.162,2.262),(-9.019,2.26),(-10.098,2.26),(-10.043,2.262),(-9.803,2.26),(-9.748,2.26),(-9.457,2.254)]
bcu_lower_core = [(-10.093,2.259),(-9.992,2.243),(-9.891,2.28),(-9.878,2.247),(-9.748,2.251),(-9.798,2.239),(-9.672,2.288),(-9.605,2.27),(-9.563,2.253),(-9.52,2.28),(-9.424,2.257),(-9.377,2.229),(-9.348,2.263),(-9.285,2.29),(-9.167,2.263),(-9.116,2.268),(-9.082,2.233),(-9.019,2.249),(-9.255,2.235),(-9.293,2.221),(-9.158,2.233),(-9.192,2.213),(-9.07,2.194),(-9.032,2.215),(-9.141,2.184),(-9.209,2.182),(-9.242,2.178),(-8.977,2.198),(-9.002,2.166),(-8.96,2.144),(-9.006,2.111),(-9.091,2.083),(-9.028,2.065),(-9.183,2.15),(-9.221,2.095),(-9.276,2.132),(-9.306,2.142),(-9.352,2.146),(-9.415,2.138),(-9.373,2.121),(-9.348,2.091),(-9.415,2.109),(-9.482,2.117),(-9.449,2.162),(-9.407,2.178),(-9.504,2.144),(-9.52,2.194),(-9.567,2.196),(-9.622,2.188),(-9.664,2.182),(-9.731,2.174),(-9.798,2.194),(-9.841,2.186),(-9.904,2.201),(-9.946,2.199),(-10.026,2.215),(-10.102,2.201),(-10.022,2.188),(-9.98,2.172),(-9.925,2.174),(-10.064,2.172),(-10.148,2.18),(-10.203,2.162),(-10.114,2.142),(-10.173,2.14),(-10.06,2.142),(-9.984,2.138),(-9.895,2.15),(-9.819,2.127),(-9.765,2.131),(-9.718,2.115),(-9.638,2.144),(-9.592,2.142),(-9.55,2.123),(-9.849,2.107),(-9.929,2.113),(-9.98,2.107),(-10.017,2.091),(-10.081,2.113),(-10.228,2.097),(-10.081,2.095),(-9.828,2.067),(-9.769,2.081),(-9.718,2.091),(-9.664,2.079),(-9.6,2.083),(-9.554,2.071),(-9.478,2.065),(-9.453,2.044),(-9.398,2.042),(-9.318,2.044),(-9.272,2.081),(-9.23,2.048),(-9.171,2.042),(-9.108,2.04),(-9.074,2.024),(-9.103,1.995),(-9.175,1.997),(-9.23,1.989),(-9.284,2.028),(-9.331,1.981),(-9.297,1.949),(-9.255,1.949),(-8.977,1.983),(-10.148,2.052),(-10.106,2.04),(-10.152,2.026),(-10.047,2.048),(-10.009,2.024),(-9.925,2.044),(-9.862,2.048),(-9.803,2.04),(-9.718,2.028),(-9.647,2.026),(-9.571,2.024),(-9.508,2.032),(-9.432,2.018),(-9.424,1.995),(-9.47,1.995),(-9.504,2.01),(-9.567,1.993),(-9.664,1.977),(-9.735,2.0),(-9.807,2.008),(-9.883,2.004),(-9.954,2.002),(-10.224,1.985),(-10.173,1.975),(-10.148,1.973),(-10.11,1.977),(-10.064,1.967),(-10.013,1.965),(-9.98,1.943),(-9.912,1.965),(-9.853,1.975),(-9.807,1.945),(-9.718,1.951),(-9.613,1.957),(-9.571,1.947),(-9.512,1.951),(-9.474,1.951),(-9.504,1.973),(-10.098,1.929),(-10.03,1.916),(-9.942,1.929),(-9.883,1.943),(-9.765,1.912),(-9.685,1.935),(-9.592,1.894),(-9.537,1.902),(-9.495,1.91),(-9.436,1.912),(-9.369,1.902),(-9.305,1.906),(-9.352,1.922),(-10.114,1.894),(-10.135,1.906),(-10.199,1.912),(-9.916,1.898),(-9.828,1.902),(-9.752,1.89),(-9.685,1.874),(-10.22,1.857),(-10.131,1.843),(-10.177,1.823),(-10.022,1.862),(-9.954,1.862),(-9.908,1.855),(-9.853,1.862),(-9.79,1.853),(-9.743,1.847),(-9.693,1.835),(-9.638,1.829),(-9.588,1.845),(-9.533,1.859),(-9.415,1.878),(-9.188,1.868),(-9.314,1.857),(-10.076,1.811),(-10.001,1.823),(-9.946,1.803),(-9.895,1.807),(-9.862,1.823),(-9.79,1.795),(-9.735,1.782),(-9.592,1.794),(-9.55,1.772),(-9.394,1.795),(-9.331,1.823),(-9.105,1.827),(-9.002,1.829),(-10.013,1.786),(-10.081,1.77),(-9.916,1.768),(-9.963,1.756),(-9.87,1.754),(-9.807,1.752),(-9.773,1.75),(-9.685,1.74),(-9.651,1.764),(-9.445,1.742),(-10.148,1.736),(-10.228,1.736),(-10.022,1.73),(-9.933,1.725),(-10.068,1.709),(-9.752,1.723),(-9.807,1.699),(-9.929,1.697),(-10.19,1.711)]

line_logF = [-11.2, -7.0]
line_alpha = [2.545, 2.03]

x_ticks = [-11, -10, -9, -8, -7]
y_ticks = [1.25, 1.50, 1.75, 2.00, 2.25, 2.50, 2.75, 3.00, 3.25]

def cols(*groups):
    pts = [p for g in groups for p in g]
    return [p[0] for p in pts], [p[1] for p in pts]

plt.rcParams.update({"font.family": "DejaVu Sans", "mathtext.fontset": "dejavusans", "axes.linewidth": 1.5})
fig = plt.figure(figsize=(10.28, 7.5267), dpi=300)
ax = fig.add_axes([264/3084, 1 - 2067/2258, (3047-264)/3084, (2067-30)/2258])

fx, fy = cols(fsrq_right, fsrq_mid, fsrq_left, fsrq_core)
bx, by = cols(bllac_zoom5, bllac_upper, bllac_lower, bllac_dense)
cx, cy = cols(bcu_top, bcu_right, bcu_low, bcu_core, bcu_upper_core, bcu_lower_core)

ax.scatter(fx, fy, s=60, marker="+", c="k", linewidths=1.6, label="FSRQ")
ax.scatter(bx, by, s=60, marker="o", facecolors="none", edgecolors="r", linewidths=1.75, label="BL Lac")
ax.scatter(cx, cy, s=60, marker="^", facecolors="none", edgecolors="g", linewidths=1.75, label="BCU")
ax.plot(line_logF, line_alpha, color="k", lw=1.75)

ax.set_xlim(-11.40, -6.805)
ax.set_ylim(1.2014, 3.30)
ax.set_xticks(x_ticks)
ax.set_yticks(y_ticks)
ax.set_yticklabels([f"{v:.2f}" for v in y_ticks])
ax.xaxis.set_minor_locator(MultipleLocator(0.5))
ax.yaxis.set_minor_locator(AutoMinorLocator(2))
ax.tick_params(which="both", direction="in", top=True, right=True, labelsize=14)
ax.set_xlabel(r"$\log F$", fontsize=17.5, labelpad=4)
ax.set_ylabel(r"$\alpha_{\rm ph}$", fontsize=17.5, labelpad=3)
ax.legend(loc="upper right", fontsize=13.5)
fig.savefig("out.png", dpi=300)
